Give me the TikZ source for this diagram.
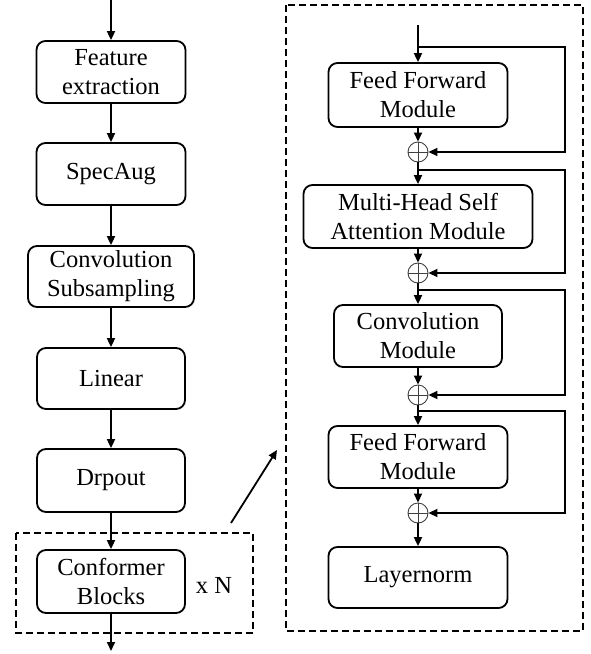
\documentclass[tikz,border=0pt]{standalone}
\usepackage{fontspec}
\setmainfont{Liberation Serif}
\usetikzlibrary{arrows.meta}
\begin{document}
\begin{tikzpicture}[x=1pt,y=-1pt,line width=1.8pt,
  box/.style={draw,rounded corners=9pt,align=center,inner sep=0pt,
    font=\fontsize{24.5}{29}\selectfont},
  arr/.style={-{Triangle[length=9pt,width=8pt]}},
  dbox/.style={dash pattern=on 7pt off 4pt,line width=1.6pt},
  plus/.style={draw=black!75,circle,minimum size=20pt,inner sep=0pt,line width=0.9pt},
  lbl/.style={font=\fontsize{24.5}{29}\selectfont}]
\useasboundingbox (0,0) rectangle (590,654);
% left column
\coordinate (in) at (111,0);
\node[box,minimum width=149pt,minimum height=62pt] (fe) at (111,72) {Feature\\extraction};
\node[box,minimum width=149pt,minimum height=62pt] (sa) at (111,174) {SpecAug};
\node[box,minimum width=166pt,minimum height=61pt] (cs) at (111,276.5) {Convolution\\Subsampling};
\node[box,minimum width=148pt,minimum height=61pt] (lin) at (111,378.5) {Linear};
\node[box,minimum width=148pt,minimum height=63pt] (dr) at (111,480.5) {Drpout};
\node[box,minimum width=148pt,minimum height=63pt] (cb) at (111,581.5) {Conformer\\Blocks};
\node[lbl] (xn) at (214,585) {x N};
\coordinate (out) at (111,651);
\draw[dbox] (16,533) rectangle (253,633);
\draw[arr] (in) -- (fe.north);
\draw[arr] (fe) -- (sa);
\draw[arr] (sa) -- (cs);
\draw[arr] (cs) -- (lin);
\draw[arr] (lin) -- (dr);
\draw[arr] (dr) -- (cb);
\draw[arr] (cb) -- (out);
\coordinate (da) at (231,523);
\coordinate (db) at (277,450);
\draw[arr] (da) -- (db);
% right column
\draw[dbox] (286,5) rectangle (583,631);
\coordinate (rin) at (418,25);
\node[box,minimum width=179pt,minimum height=64pt] (ff1) at (418,95) {Feed Forward\\Module};
\node[plus] (p1) at (418,152) {};
\node[box,minimum width=229pt,minimum height=63pt] (mh) at (418,216.5) {Multi-Head Self\\Attention Module};
\node[plus] (p2) at (418,273) {};
\node[box,minimum width=168pt,minimum height=62pt] (cm) at (418,336) {Convolution\\Module};
\node[plus] (p3) at (418,395) {};
\node[box,minimum width=179pt,minimum height=62pt] (ff2) at (418,457) {Feed Forward\\Module};
\node[plus] (p4) at (418,513) {};
\node[box,minimum width=179pt,minimum height=61pt] (ln) at (418,577.5) {Layernorm};
\foreach \p in {p1,p2,p3,p4}{
  \draw[black!75,line width=0.9pt] (\p.north) -- (\p.south) (\p.west) -- (\p.east);
}
\coordinate (b1) at (418,47);
\coordinate (b2) at (418,170);
\coordinate (b3) at (418,290);
\coordinate (b4) at (418,411);
\coordinate (sk) at (565,0);
\draw[arr] (rin) -- (ff1.north);
\draw[arr] (ff1.south) -- (p1.north);
\draw[arr] (p1.south) -- (mh.north);
\draw[arr] (mh.south) -- (p2.north);
\draw[arr] (p2.south) -- (cm.north);
\draw[arr] (cm.south) -- (p3.north);
\draw[arr] (p3.south) -- (ff2.north);
\draw[arr] (ff2.south) -- (p4.north);
\draw[arr] (p4.south) -- (ln.north);
\draw[arr] (b1) -- (b1 -| sk) |- (p1.east);
\draw[arr] (b2) -- (b2 -| sk) |- (p2.east);
\draw[arr] (b3) -- (b3 -| sk) |- (p3.east);
\draw[arr] (b4) -- (b4 -| sk) |- (p4.east);
\end{tikzpicture}
\end{document}
